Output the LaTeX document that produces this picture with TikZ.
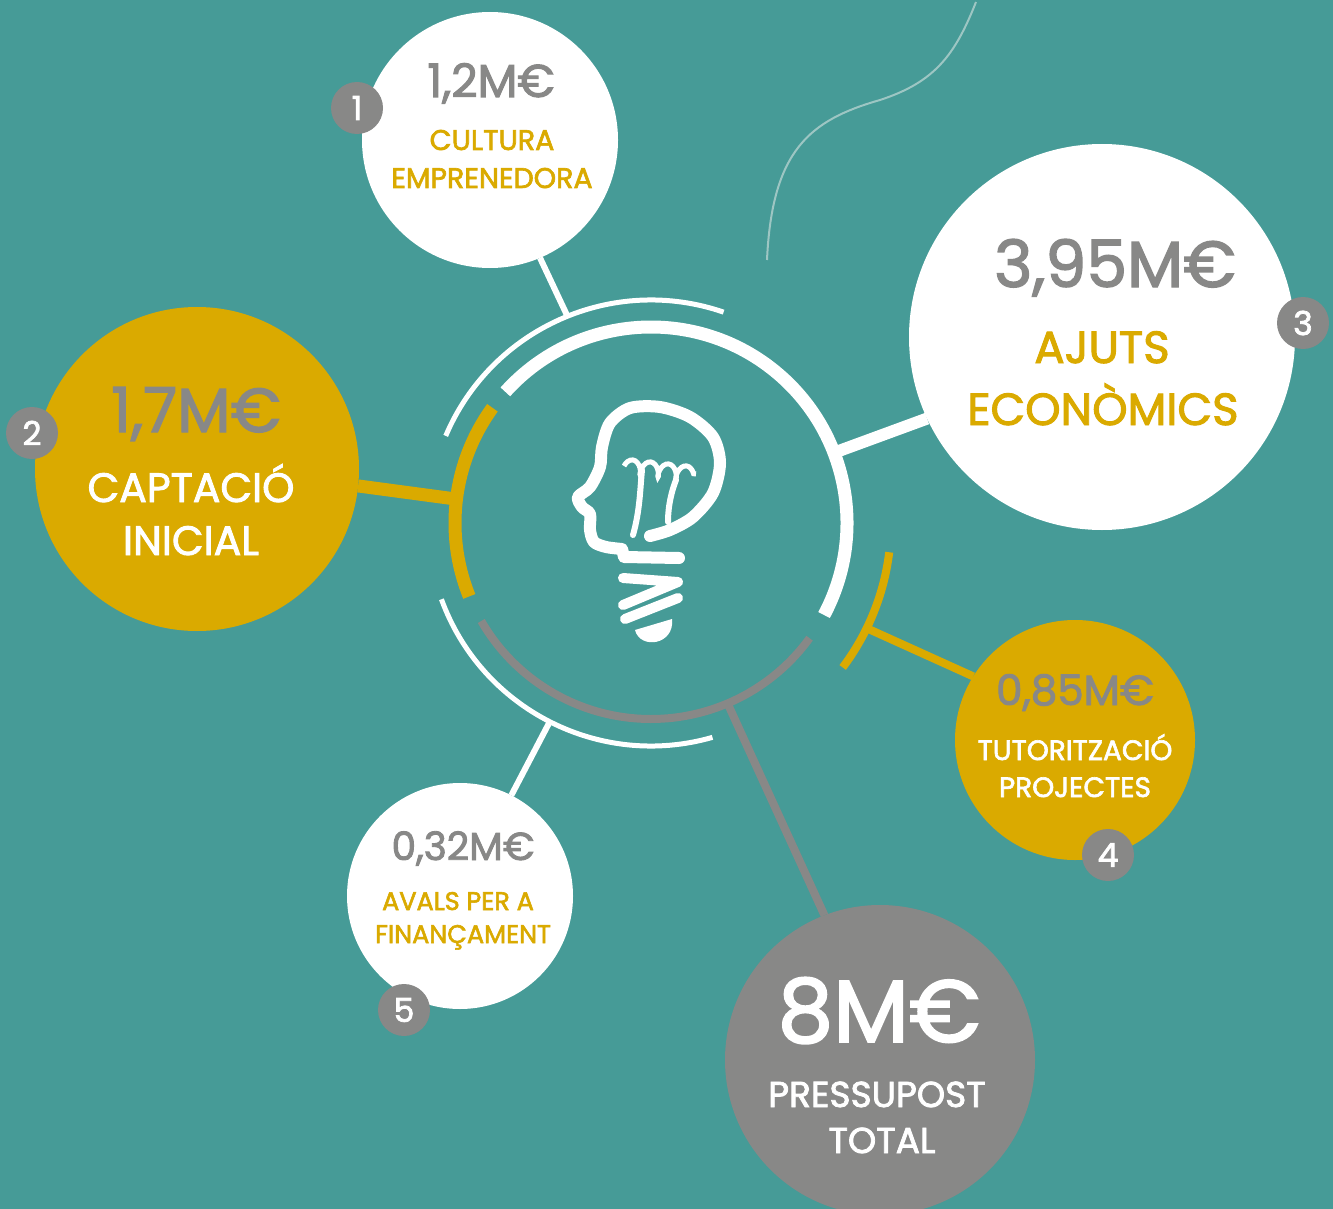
\documentclass[tikz,border=0pt]{standalone}
\usepackage{fontspec}
\setmainfont{Poppins}[FakeBold=2.2]
\usetikzlibrary{positioning, calc, decorations.pathmorphing}

\definecolor{fons}{HTML}{469B97}
\definecolor{groc}{HTML}{DAAA00}
\definecolor{gris}{HTML}{888887}
\definecolor{linia}{HTML}{9DC6C3}

\begin{document}
\begin{tikzpicture}[x=1pt, y=1pt,
        cercle/.style={circle, inner sep=0pt, outer sep=0pt},
        num/.style={circle, fill=gris, minimum size=52pt, inner sep=0pt, text=white, font=\fontsize{33}{33}\selectfont},
        xifra/.style={anchor=base, text=gris},
        nom/.style={anchor=base},
        arcgruix/.style={line width=13pt},
        arcprim/.style={line width=5pt},
        bombeta/.style={white, line width=12pt, line cap=round, line join=round}
    ]

    % FONS
    \fill[fons] (0,0) rectangle (1333,-1209);
    \useasboundingbox (0,0) rectangle (1333,-1209);
    \clip (0,0) rectangle (1333,-1209);
    \draw[linia, line width=2pt] (767,-260) .. controls (772,-150) and (810,-120) .. (880,-100) .. controls (935,-82) and (955,-55) .. (976,-2);

    % CERCLE CENTRAL
    \coordinate (centre) at (651,-523);
    \draw[white, arcgruix] ([shift={(138:196)}]centre) arc[start angle=138, end angle=-28, radius=196];
    \draw[groc, arcgruix] ([shift={(144:196)}]centre) arc[start angle=144, end angle=202, radius=196];
    \draw[gris, line width=8pt] ([shift={(210:196)}]centre) arc[start angle=210, end angle=324, radius=196];
    \draw[white, arcprim] ([shift={(71:223)}]centre) arc[start angle=71, end angle=157, radius=223];
    \draw[white, arcprim] ([shift={(200:223)}]centre) arc[start angle=200, end angle=286, radius=223];
    \draw[groc, line width=8pt] ([shift={(-7:240)}]centre) arc[start angle=-7, end angle=-37, radius=240];
    \path (centre) ++(112:223) coordinate (p1);
    \path (centre) ++(173:196) coordinate (p2);
    \path (centre) ++(21:196) coordinate (p3);
    \path (centre) ++(-26:240) coordinate (p4);
    \path (centre) ++(243:223) coordinate (p5);
    \path (centre) ++(-67:196) coordinate (p6);

    % BOMBOLLES
    \node[cercle, fill=white, minimum size=256pt] (c1) at (490,-140) {};
    \node[cercle, fill=groc, minimum size=324pt] (c2) at (197,-469) {};
    \node[cercle, fill=white, minimum size=386pt] (c3) at (1102,-337) {};
    \node[cercle, fill=groc, minimum size=240pt] (c4) at (1075,-740) {};
    \node[cercle, fill=white, minimum size=226pt] (c5) at (460,-896) {};
    \node[cercle, fill=gris, minimum size=310pt] (c6) at (880,-1060) {};

    % Connexions
    \draw[white, line width=6pt] (p1) -- (c1.-67);
    \draw[groc, line width=13pt] (p2) -- (c2.-6);
    \draw[white, line width=12pt] (p3) -- (c3.205);
    \draw[groc, line width=8pt] (p4) -- (c4.148);
    \draw[white, line width=6pt] (p5) -- (c5.63);
    \draw[gris, line width=8pt] (p6) -- (c6.111);

    % TEXTOS
    \node[xifra, font=\fontsize{46}{46}\selectfont] (x1) at ([xshift=1pt, yshift=43pt]c1.center) {1,2M€};
    \node[nom, text=groc, font=\fontsize{28.5}{28.5}\selectfont] (n1a) at ([xshift=2pt, yshift=-10pt]c1.center) {CULTURA};
    \node[nom, text=groc, font=\fontsize{28.5}{28.5}\selectfont] (n1b) at ([xshift=2pt, yshift=-48pt]c1.center) {EMPRENEDORA};

    \node[xifra, font=\fontsize{62}{62}\selectfont] (x2) at ([xshift=-1pt, yshift=37pt]c2.center) {1,7M€};
    \node[nom, text=white, font=\fontsize{41}{41}\selectfont] (n2a) at ([xshift=-6pt, yshift=-33pt]c2.center) {CAPTACIÓ};
    \node[nom, text=white, font=\fontsize{41}{41}\selectfont] (n2b) at ([xshift=-6pt, yshift=-86pt]c2.center) {INICIAL};

    \node[xifra, font=\fontsize{65}{65}\selectfont] (x3) at ([xshift=13pt, yshift=50pt]c3.center) {3,95M€};
    \node[nom, text=groc, font=\fontsize{45}{45}\selectfont] (n3a) at ([yshift=-26pt]c3.center) {AJUTS};
    \node[nom, text=groc, font=\fontsize{45}{45}\selectfont] (n3b) at ([xshift=1pt, yshift=-88pt]c3.center) {ECONÒMICS};

    \node[xifra, font=\fontsize{42}{42}\selectfont] (x4) at ([yshift=35pt]c4.center) {0,85M€};
    \node[nom, text=white, font=\fontsize{28}{28}\selectfont] (n4a) at ([yshift=-20pt]c4.center) {TUTORITZACIÓ};
    \node[nom, text=white, font=\fontsize{28}{28}\selectfont] (n4b) at ([yshift=-57pt]c4.center) {PROJECTES};

    \node[xifra, font=\fontsize{39}{39}\selectfont] (x5) at ([xshift=3pt, yshift=36pt]c5.center) {0,32M€};
    \node[nom, text=groc, font=\fontsize{25.5}{25.5}\selectfont] (n5a) at ([xshift=-2pt, yshift=-14pt]c5.center) {AVALS PER A};
    \node[nom, text=groc, font=\fontsize{25.5}{25.5}\selectfont] (n5b) at ([xshift=3pt, yshift=-47pt]c5.center) {FINANÇAMENT};

    \node[xifra, text=white, font=\fontsize{88}{88}\selectfont] (x6) at ([xshift=-1pt, yshift=18pt]c6.center) {8M€};
    \node[nom, text=white, font=\fontsize{36}{36}\selectfont] (n6a) at ([xshift=-3pt, yshift=-47pt]c6.center) {PRESSUPOST};
    \node[nom, text=white, font=\fontsize{36}{36}\selectfont] (n6b) at ([xshift=2pt, yshift=-93pt]c6.center) {TOTAL};

    % NUMEROS
    \node[num] (b1) at (357,-108) {1};
    \node[num] (b2) at (32,-433) {2};
    \node[num] (b3) at (1303,-323) {3};
    \node[num] (b4) at (1108,-855) {4};
    \node[num] (b5) at (404,-1010) {5};

    % BOMBETA
    \draw[bombeta] plot[smooth] coordinates {(650,-536) (670,-530) (693,-517) (713,-493) (720,-463) (713,-437) (690,-417) (660,-407) (630,-408) (610,-423) (602,-447) (600,-467) (590,-487) (578,-497) (582,-507) (590,-514) (590,-530) (594,-542) (606,-547) (622,-549)} -- (624,-557) -- (679,-558);
    \draw[bombeta, line width=10pt] (623,-578) -- (678,-582) -- (623,-605);
    \draw[bombeta, line width=10pt] (625,-619) -- (678,-598);
    \fill[white] (635,-630) .. controls (640,-650) and (675,-645) .. (672,-619) -- cycle;
    \draw[white, line width=6pt, line cap=round] (633,-535) .. controls (640,-510) and (640,-490) .. (642,-470);
    \draw[white, line width=6pt, line cap=round] (668,-522) .. controls (668,-505) and (672,-490) .. (676,-480);
    \draw[white, line width=5pt, decorate, decoration={coil, amplitude=7pt, segment length=18pt, aspect=0.5}] (624,-466) -- (696,-474);
\end{tikzpicture}
\end{document}
